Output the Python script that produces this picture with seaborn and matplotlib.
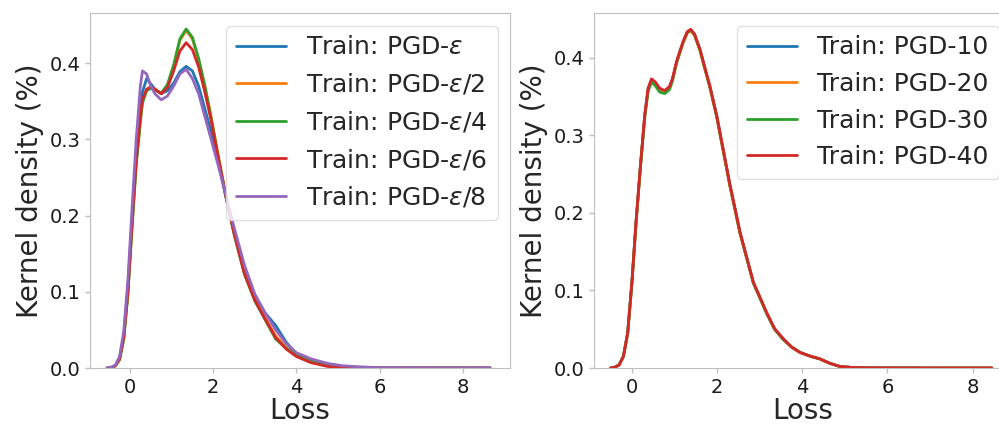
import numpy as np
import pandas as pd
import matplotlib
matplotlib.use("Agg")
import matplotlib.pyplot as plt
import seaborn as sns

# left panel: loss grid and kde values
loss_left = [-0.55, -0.45, -0.35, -0.25, -0.15, -0.05, 0.05, 0.15, 0.25, 0.3, 0.4, 0.5, 0.6, 0.75,
             0.9, 1.05, 1.2, 1.35, 1.5, 1.65, 1.8, 1.95, 2.1, 2.3, 2.5, 2.75, 3.0, 3.25, 3.5, 3.75,
             4.0, 4.35, 4.75, 5.1, 5.5, 6.0, 7.0, 8.65]
kde_eps = [0, 0.0005, 0.003, 0.012, 0.042, 0.105, 0.195, 0.28, 0.34, 0.362, 0.38, 0.373, 0.366, 0.36,
           0.364, 0.374, 0.389, 0.396, 0.39, 0.37, 0.34, 0.31, 0.275, 0.226, 0.18, 0.13, 0.095, 0.072,
           0.056, 0.034, 0.018, 0.01, 0.005, 0.002, 0.001, 0.0004, 0.0001, 0]
kde_eps2 = [0, 0.0005, 0.003, 0.011, 0.038, 0.097, 0.185, 0.268, 0.325, 0.35, 0.365, 0.368, 0.366, 0.36,
            0.37, 0.396, 0.43, 0.443, 0.432, 0.405, 0.37, 0.33, 0.285, 0.228, 0.178, 0.125, 0.09, 0.065,
            0.042, 0.027, 0.017, 0.009, 0.004, 0.0015, 0.0005, 0.0001, 0, 0]
kde_eps4 = [0, 0.0005, 0.003, 0.011, 0.038, 0.097, 0.185, 0.267, 0.323, 0.348, 0.364, 0.367, 0.365, 0.361,
            0.372, 0.398, 0.432, 0.445, 0.434, 0.406, 0.37, 0.328, 0.283, 0.226, 0.176, 0.123, 0.088, 0.063,
            0.038, 0.026, 0.017, 0.009, 0.004, 0.0015, 0.0005, 0.0001, 0, 0]
kde_eps6 = [0, 0.0005, 0.003, 0.012, 0.04, 0.1, 0.19, 0.272, 0.33, 0.352, 0.366, 0.369, 0.366, 0.36,
            0.368, 0.39, 0.416, 0.427, 0.418, 0.395, 0.362, 0.325, 0.282, 0.226, 0.177, 0.124, 0.089, 0.064,
            0.04, 0.025, 0.015, 0.007, 0.002, 0, 0, 0, 0, 0]
kde_eps8 = [0, 0.001, 0.004, 0.015, 0.048, 0.115, 0.21, 0.3, 0.37, 0.39, 0.386, 0.37, 0.36, 0.352,
            0.357, 0.37, 0.386, 0.392, 0.38, 0.36, 0.33, 0.3, 0.27, 0.228, 0.185, 0.135, 0.097, 0.072,
            0.05, 0.032, 0.02, 0.012, 0.006, 0.003, 0.0015, 0.0005, 0.0001, 0]
labels_left = [r"Train: PGD-$\varepsilon$", r"Train: PGD-$\varepsilon$/2", r"Train: PGD-$\varepsilon$/4",
               r"Train: PGD-$\varepsilon$/6", r"Train: PGD-$\varepsilon$/8"]

# right panel
loss_right = [-0.5, -0.4, -0.3, -0.2, -0.1, 0.0, 0.1, 0.2, 0.3, 0.38, 0.46, 0.55, 0.65, 0.77,
              0.88, 0.95, 1.05, 1.2, 1.3, 1.38, 1.47, 1.6, 1.72, 1.83, 1.99, 2.14, 2.3, 2.54, 2.85,
              3.16, 3.35, 3.55, 3.75, 3.95, 4.2, 4.4, 4.65, 4.88, 5.2, 6.0, 7.0, 8.45]
kde_pgd10 = [0, 0.001, 0.004, 0.015, 0.045, 0.11, 0.19, 0.26, 0.325, 0.36, 0.372, 0.368, 0.36, 0.357,
             0.362, 0.372, 0.395, 0.42, 0.433, 0.436, 0.43, 0.41, 0.385, 0.363, 0.325, 0.282, 0.236,
             0.174, 0.11, 0.071, 0.05, 0.037, 0.027, 0.02, 0.015, 0.012, 0.006, 0.002, 0.0005, 0.0001, 0, 0]
kde_pgd20 = [0, 0.001, 0.004, 0.015, 0.044, 0.109, 0.189, 0.259, 0.324, 0.359, 0.371, 0.367, 0.359, 0.356,
             0.361, 0.371, 0.394, 0.419, 0.432, 0.435, 0.429, 0.409, 0.384, 0.362, 0.324, 0.281, 0.235,
             0.173, 0.11, 0.071, 0.05, 0.037, 0.027, 0.02, 0.015, 0.012, 0.006, 0.002, 0.0005, 0.0001, 0, 0]
kde_pgd30 = [0, 0.001, 0.004, 0.015, 0.045, 0.11, 0.19, 0.26, 0.323, 0.357, 0.369, 0.364, 0.356, 0.354,
             0.359, 0.37, 0.394, 0.42, 0.433, 0.436, 0.43, 0.41, 0.385, 0.363, 0.325, 0.282, 0.236,
             0.174, 0.11, 0.071, 0.05, 0.037, 0.027, 0.02, 0.015, 0.012, 0.006, 0.002, 0.0005, 0.0001, 0, 0]
kde_pgd40 = [0, 0.001, 0.004, 0.015, 0.045, 0.111, 0.191, 0.261, 0.326, 0.361, 0.373, 0.369, 0.361, 0.358,
             0.363, 0.373, 0.396, 0.421, 0.434, 0.437, 0.431, 0.411, 0.386, 0.364, 0.326, 0.283, 0.237,
             0.175, 0.111, 0.072, 0.051, 0.038, 0.027, 0.02, 0.015, 0.012, 0.006, 0.002, 0.0005, 0.0001, 0, 0]
labels_right = ["Train: PGD-10", "Train: PGD-20", "Train: PGD-30", "Train: PGD-40"]

sns.set_style("ticks", {"axes.edgecolor": ".75", "xtick.color": ".75", "ytick.color": ".75"})
plt.rcParams["xtick.labelcolor"] = ".1"
plt.rcParams["ytick.labelcolor"] = ".1"
plt.rcParams["font.family"] = ["DejaVu Sans"]
plt.rcParams["mathtext.fontset"] = "dejavusans"

colors = sns.color_palette("tab10")


def long_form(loss, series, labels):
    frames = []
    for vals, lab in zip(series, labels):
        frames.append(pd.DataFrame({"Loss": loss, "density": vals, "model": lab}))
    return pd.concat(frames, ignore_index=True)


left = long_form(loss_left, [kde_eps, kde_eps2, kde_eps4, kde_eps6, kde_eps8], labels_left)
right = long_form(loss_right, [kde_pgd10, kde_pgd20, kde_pgd30, kde_pgd40], labels_right)

fig = plt.figure(figsize=(9.99, 4.25), dpi=100)
ax1 = fig.add_axes([90 / 999, 1 - 368 / 425, 420 / 999, 355 / 425])
ax2 = fig.add_axes([594 / 999, 1 - 368 / 425, 417 / 999, 355 / 425])

sns.lineplot(data=left, x="Loss", y="density", hue="model", palette=colors[:5],
             linewidth=2.0, ax=ax1)
sns.lineplot(data=right, x="Loss", y="density", hue="model", palette=colors[:4],
             linewidth=2.0, ax=ax2)

for ax, xl, yl in [(ax1, (-0.96, 9.13), (0, 0.466)), (ax2, (-0.89, 8.9), (0, 0.458))]:
    ax.set_xlim(*xl)
    ax.set_ylim(*yl)
    ax.set_xticks([0, 2, 4, 6, 8])
    ax.set_yticks([0.0, 0.1, 0.2, 0.3, 0.4])
    ax.tick_params(labelsize=14, length=3.5, width=1)
    ax.set_xlabel("Loss", fontsize=20, labelpad=0)
    ax.set_ylabel("Kernel density (%)", fontsize=20, labelpad=4)
    ax.legend(loc="upper right", fontsize=18, frameon=True, edgecolor=".85")
    for s in ax.spines.values():
        s.set_visible(True)

fig.savefig("out.png", dpi=100)
